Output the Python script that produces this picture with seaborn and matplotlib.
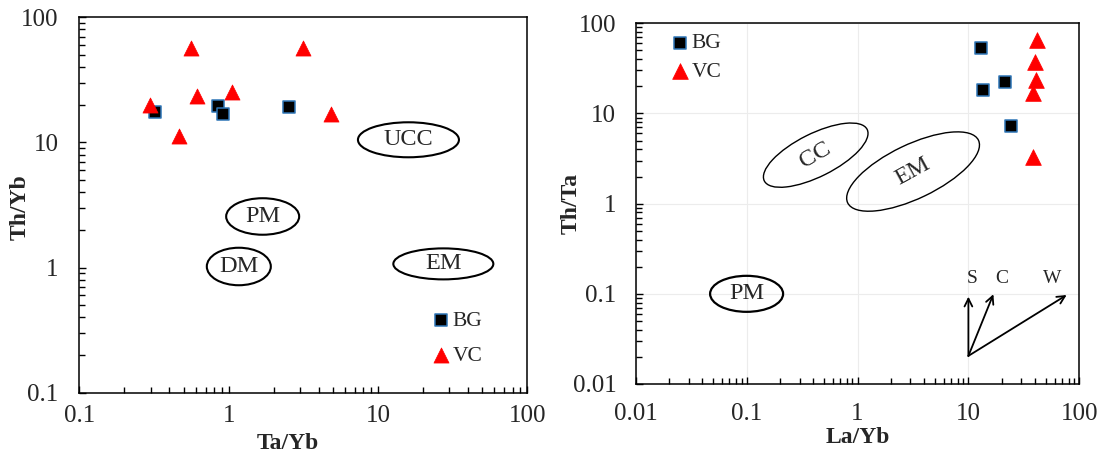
import numpy as np
import pandas as pd
import matplotlib
matplotlib.use("Agg")
import matplotlib.pyplot as plt
import seaborn as sns
from matplotlib.patches import Ellipse
from matplotlib.transforms import ScaledTranslation
from matplotlib.ticker import LogLocator, FixedLocator, FixedFormatter, NullFormatter

# ---------------- data ----------------
groups = ["BG", "VC"]
bg_ta_yb = [0.321, 0.845, 0.92, 2.55]
bg_th_yb = [17.4, 19.7, 16.8, 19.1]
vc_ta_yb = [0.297, 0.557, 0.611, 1.06, 0.466, 3.16, 4.85]
vc_th_yb = [19.9, 56.5, 23.5, 25.4, 11.2, 56.5, 16.8]

bg_la_yb = [12.9, 13.6, 21.4, 24.2]
bg_th_ta = [52.8, 18.2, 22.5, 7.26]
vc_la_yb = [41.8, 39.9, 40.5, 38.5, 38.0]
vc_th_ta = [65.3, 37.5, 23.5, 17.0, 3.32]

# reference fields: name, centre x, centre y, width px, height px, angle, linewidth
left_fields = [("UCC", 16.0, 10.5, 101, 35, 0, 1.5),
               ("PM", 1.69, 2.56, 73, 36.5, 0, 1.5),
               ("DM", 1.17, 1.02, 64, 37.5, 0, 1.5),
               ("EM", 27.4, 1.07, 100, 31, 0, 1.5)]
right_fields = [("CC", 0.42, 3.45, 115, 43, 26.6, 1.0),
                ("EM", 3.17, 2.27, 145, 54, 25.6, 1.0),
                ("PM", 0.1, 0.1, 73, 36, 0, 1.6)]
# trend vectors (S, C, W) from a common origin
vec_origin = (10.0, 0.0205)
vec_names = ["S", "C", "W"]
vec_tip_x = [10.0, 16.8, 76.9]
vec_tip_y = [0.093, 0.099, 0.097]
vec_lab_x = [10.8, 20.0, 57.5]
vec_lab_y = [0.149, 0.149, 0.149]

left_ticks = [0.1, 1, 10, 100]
left_ticklabels = ["0.1", "1", "10", "100"]
right_ticks = [0.01, 0.1, 1, 10, 100]
right_ticklabels = ["0.01", "0.1", "1", "10", "100"]

# ---------------- style ----------------
sns.set_theme(style="white")
plt.rcParams["font.family"] = ["Liberation Serif", "DejaVu Serif"]
plt.rcParams["axes.edgecolor"] = "black"
plt.rcParams["axes.linewidth"] = 1.1

RED = "#FF0000"
BLUE_EDGE = "#2E75B6"

fig = plt.figure(figsize=(11.09, 4.58), dpi=100)
W, H = 1109, 458
ax1 = fig.add_axes([79.3 / W, 1 - 392.7 / H, 448 / W, 375.4 / H])
ax2 = fig.add_axes([635.7 / W, 1 - 384 / H, 443.6 / W, 360.7 / H])


def setup(ax, ticks, labels, lims, xpad, ypad):
    ax.set_xscale("log")
    ax.set_yscale("log")
    ax.set_xlim(*lims)
    ax.set_ylim(*lims)
    for axis in (ax.xaxis, ax.yaxis):
        axis.set_major_locator(FixedLocator(ticks))
        axis.set_major_formatter(FixedFormatter(labels))
        axis.set_minor_locator(LogLocator(base=10, subs=np.arange(2, 10)))
        axis.set_minor_formatter(NullFormatter())
    ax.tick_params(which="both", direction="in", top=False, right=False,
                   bottom=True, left=True, color="black", width=1.0)
    ax.tick_params(which="major", length=5, labelsize=18)
    ax.tick_params(which="minor", length=4)
    ax.tick_params(axis="x", which="major", pad=xpad)
    ax.tick_params(axis="y", which="major", pad=ypad)
    for s in ax.spines.values():
        s.set_color("black")
        s.set_linewidth(1.1)


def draw_fields(ax, fields):
    for name, cx, cy, w, h, ang, lw in fields:
        tr = fig.dpi_scale_trans + ScaledTranslation(cx, cy, ax.transData)
        e = Ellipse((0, 0), w / 100, h / 100, angle=ang, transform=tr,
                    fill=False, edgecolor="black", linewidth=lw, zorder=2)
        ax.add_patch(e)
        ax.text(cx, cy, name, ha="center", va="center", fontsize=17.5,
                rotation=ang * 1.12, rotation_mode="anchor", zorder=3)


def draw_points(ax, bx, by, vx, vy, sq, tri):
    dfb = pd.DataFrame({"x": bx, "y": by})
    dfv = pd.DataFrame({"x": vx, "y": vy})
    sns.scatterplot(data=dfb, x="x", y="y", ax=ax, marker="s", s=sq,
                    color="black", edgecolor=BLUE_EDGE, linewidth=1.1,
                    label=groups[0], zorder=4)
    sns.scatterplot(data=dfv, x="x", y="y", ax=ax, marker="^", s=tri,
                    color=RED, edgecolor=RED, linewidth=0.5,
                    label=groups[1], zorder=5)


# ---------------- left panel ----------------
setup(ax1, left_ticks, left_ticklabels, (0.1, 100), 9, 15)
draw_points(ax1, bg_ta_yb, bg_th_yb, vc_ta_yb, vc_th_yb, 72, 118)
draw_fields(ax1, left_fields)
ax1.set_xlabel("Ta/Yb", fontsize=17, fontweight="bold")
ax1.set_ylabel("Th/Yb", fontsize=17, fontweight="bold")
ax1.xaxis.set_label_coords(0.466, -0.134)
ax1.xaxis.label.set_va("center")
ax1.yaxis.set_label_coords(-0.131, 0.495)
ax1.yaxis.label.set_va("center")
ax1.legend(loc="upper left", bbox_to_anchor=(0.792, 0.218), frameon=False,
           fontsize=15.5, handlelength=0.6, handletextpad=0.25,
           labelspacing=0.7, borderpad=0, borderaxespad=0)

# ---------------- right panel ----------------
setup(ax2, right_ticks, right_ticklabels, (0.01, 100), 14, 14)
ax2.grid(True, which="major", color="#ECECEC", linewidth=0.8, zorder=0)
ax2.set_axisbelow(True)
draw_points(ax2, bg_la_yb, bg_th_ta, vc_la_yb, vc_th_ta, 85, 128)
draw_fields(ax2, right_fields)
for nm, tx, ty, lx, ly in zip(vec_names, vec_tip_x, vec_tip_y, vec_lab_x, vec_lab_y):
    ax2.annotate("", xy=(tx, ty), xytext=vec_origin,
                 arrowprops=dict(arrowstyle="->", color="black", lw=1.3,
                                 shrinkA=0, shrinkB=0, mutation_scale=14))
    ax2.text(lx, ly, nm, ha="center", va="center", fontsize=14)
ax2.set_xlabel("La/Yb", fontsize=17, fontweight="bold")
ax2.set_ylabel("Th/Ta", fontsize=17, fontweight="bold")
ax2.xaxis.set_label_coords(0.5, -0.147)
ax2.xaxis.label.set_va("center")
ax2.yaxis.set_label_coords(-0.146, 0.5)
ax2.yaxis.label.set_va("center")
ax2.legend(loc="upper left", bbox_to_anchor=(0.085, 0.972), frameon=False,
           fontsize=15.5, handlelength=0.6, handletextpad=0.25,
           labelspacing=0.4, borderpad=0, borderaxespad=0)

fig.savefig("out.png", dpi=100)
